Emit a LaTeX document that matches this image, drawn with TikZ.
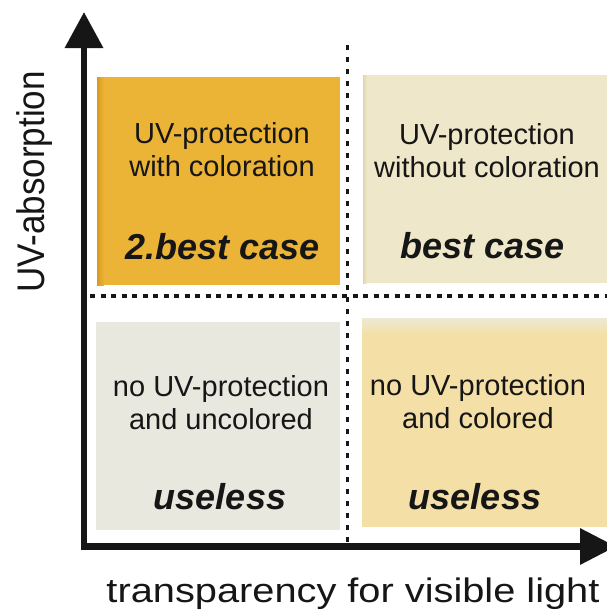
\documentclass[tikz,border=0pt]{standalone}
\usepackage{fontspec}
\setmainfont{Liberation Sans}
\usetikzlibrary{arrows.meta}
\definecolor{ink}{HTML}{161616}
\definecolor{orangebox}{HTML}{EBB437}
\definecolor{orangeedge}{HTML}{D89A1E}
\definecolor{creambox}{HTML}{EFE7CA}
\definecolor{creamedge}{HTML}{E2D6B0}
\definecolor{greybox}{HTML}{E9E8DF}
\definecolor{paleyellow}{HTML}{F4E0A7}
\definecolor{paletop}{HTML}{EEE9D6}
\tikzset{
  axisline/.style={line width=6.5pt, draw=ink, line join=miter,
    {Triangle[length=36pt,width=37pt]}-{Triangle[length=36pt,width=35pt]}},
  divider/.style={draw=ink, line width=3.5pt},
  plaintext/.style={font=\fontsize{29}{33}\selectfont, text=ink, align=center, anchor=base, inner sep=0pt},
  verdict/.style={font=\fontsize{36}{40}\selectfont\bfseries\itshape, text=ink, anchor=base, inner sep=0pt},
  axislabel/.style={text=ink, inner sep=0pt, anchor=base}
}
\begin{document}
\begin{tikzpicture}[x=1pt,y=-1pt]
\useasboundingbox (0,0) rectangle (607,611);
\fill[white] (0,0) rectangle (607,611);
% quadrant panels
\fill[orangebox] (97,77) rectangle (340,285);
\shade[left color=orangeedge, right color=orangebox] (97,77) rectangle (104,285);
\fill[creambox] (363,75) rectangle (607,283);
\shade[left color=creamedge, right color=creambox] (363,75) rectangle (367,283);
\fill[greybox] (96,322) rectangle (340,530);
\fill[paleyellow] (362,318) rectangle (607,527);
\shade[top color=paletop, bottom color=paleyellow] (362,318) rectangle (607,334);
% dashed dividers
\coordinate (vtop) at (347.5,45);
\coordinate (vbot) at (347.5,545);
\coordinate (hleft) at (90,296);
\coordinate (hright) at (607,296);
\draw[divider, dash pattern=on 5pt off 7pt] (vtop) -- (vbot);
\draw[divider, dash pattern=on 5pt off 5.5pt] (hleft) -- (hright);
% axes
\coordinate (ytip) at (84,12);
\coordinate (origin) at (84,546.5);
\coordinate (xtip) at (616,546.5);
\draw[axisline] (ytip) -- (origin) -- (xtip);
% texts (base anchor = baseline of the last line)
\node[plaintext] (tl) at (222,176) {UV-protection\\with coloration};
\node[verdict] (tlv) at (223,259) {2.best case};
\node[plaintext] (tr) at (487,177) {UV-protection\\without coloration};
\node[verdict] (trv) at (483,258) {best case};
\node[plaintext] (bl) at (221,429) {no UV-protection\\and uncolored};
\node[verdict] (blv) at (220,509) {useless};
\node[plaintext] (br) at (478,428) {no UV-protection\\and colored};
\node[verdict] (brv) at (475,509) {useless};
\node[axislabel, font=\fontsize{34}{38}\selectfont] (xl) at (353,602) {\scalebox{1.17}[1]{transparency for visible light}};
\node[axislabel, rotate=90, font=\fontsize{35}{39}\selectfont] (yl) at (44,182) {\scalebox{1}[1.1]{UV-absorption}};
\end{tikzpicture}
\end{document}
